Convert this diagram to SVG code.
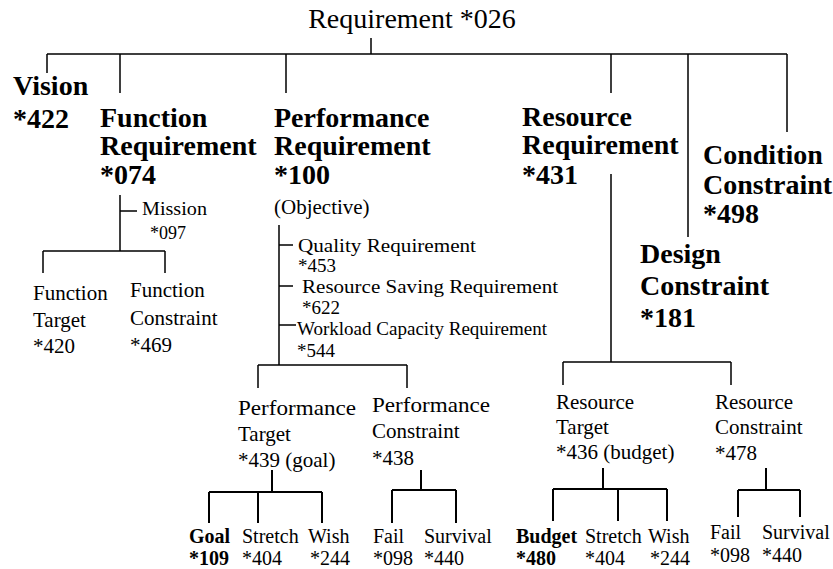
<svg xmlns="http://www.w3.org/2000/svg" width="833" height="569" viewBox="0 0 833 569" font-family="'Liberation Serif','Times New Roman',serif">
<style>
text{font-family:"Liberation Serif","Times New Roman",serif;fill:#000}
.t{font-size:28px}
.h{font-size:28px;font-weight:bold}
.m{font-size:21px}
.s{font-size:19px}
.l{font-size:20px}
.b{font-weight:bold}
.c path{fill:none;stroke:#000;stroke-width:1.5}
.c .k{stroke-width:2}
</style>
<rect width="833" height="569" fill="#fff"/>
<g class="c" id="connectors">
<path d="M371 38V54M47 54H787M47 54V73M120 54V93M286 54V93M611 54V93M688 54V237M787 54V132"/>
<path d="M120 195V251M120 211H137M43 251H165M43 251V273M165 251V273"/>
<path d="M279 225V365M279 245H293M279 286H293M279 325H296M258 365H407M258 365V388M407 365V388"/>
<path d="M611 174V362M563 362H731M563 362V385M731 362V385"/>
<path class="k" d="M272 470V492M209 492H322M209 492V523M258 492V523M322 492V523"/>
<path class="k" d="M421 470V490M392 490H456M392 490V523M456 490V523"/>
<path class="k" d="M603 468V489M553 489H667M553 489V521M618 489V521M667 489V521"/>
<path class="k" d="M766 468V490M738 490H800M738 490V517M800 490V517"/>
</g>
<g id="requirement"><text class="t" x="412" y="28" text-anchor="middle">Requirement *026</text></g>
<g id="vision"><text class="h" x="13" y="95">Vision</text><text class="h" x="13" y="128">*422</text></g>
<g id="function-requirement"><text class="h" x="100" y="127">Function</text><text class="h" x="100" y="155">Requirement</text><text class="h" x="100" y="184">*074</text></g>
<g id="performance-requirement"><text class="h" x="274" y="127">Performance</text><text class="h" x="274" y="155">Requirement</text><text class="h" x="274" y="184">*100</text><text class="m" x="274" y="214">(Objective)</text></g>
<g id="resource-requirement"><text class="h" x="522" y="126">Resource</text><text class="h" x="522" y="154">Requirement</text><text class="h" x="522" y="184">*431</text></g>
<g id="condition-constraint"><text class="h" x="703" y="164">Condition</text><text class="h" x="703" y="194">Constraint</text><text class="h" x="703" y="223">*498</text></g>
<g id="design-constraint"><text class="h" x="640" y="263">Design</text><text class="h" x="640" y="295">Constraint</text><text class="h" x="640" y="327">*181</text></g>
<g id="mission"><text x="142" y="215" font-size="18" textLength="65" lengthAdjust="spacingAndGlyphs">Mission</text><text x="150" y="239" font-size="18">*097</text></g>
<g id="function-target"><text class="m" x="33" y="300">Function</text><text class="m" x="33" y="327">Target</text><text class="m" x="33" y="353">*420</text></g>
<g id="function-constraint"><text class="m" x="130" y="297">Function</text><text class="m" x="130" y="325">Constraint</text><text class="m" x="130" y="352">*469</text></g>
<g id="quality"><text class="s" x="298" y="252" textLength="178" lengthAdjust="spacingAndGlyphs">Quality Requirement</text><text class="s" x="298" y="272">*453</text></g>
<g id="resource-saving"><text class="s" x="302" y="293" textLength="256" lengthAdjust="spacingAndGlyphs">Resource Saving Requirement</text><text class="s" x="302" y="314">*622</text></g>
<g id="workload"><text class="s" x="297" y="335" textLength="250" lengthAdjust="spacingAndGlyphs">Workload Capacity Requirement</text><text class="s" x="297" y="357">*544</text></g>
<g id="performance-target"><text class="m" x="238" y="415" textLength="118" lengthAdjust="spacingAndGlyphs">Performance</text><text class="m" x="238" y="441">Target</text><text class="m" x="238" y="467">*439 (goal)</text></g>
<g id="performance-constraint"><text class="m" x="372" y="412" textLength="118" lengthAdjust="spacingAndGlyphs">Performance</text><text class="m" x="372" y="438">Constraint</text><text class="m" x="372" y="465">*438</text></g>
<g id="resource-target"><text class="m" x="556" y="409">Resource</text><text class="m" x="556" y="434">Target</text><text class="m" x="556" y="459">*436 (budget)</text></g>
<g id="resource-constraint"><text class="m" x="715" y="409">Resource</text><text class="m" x="715" y="434">Constraint</text><text class="m" x="715" y="460">*478</text></g>
<g id="goal"><text class="l b" x="189" y="543">Goal</text><text class="l b" x="189" y="565">*109</text></g>
<g id="stretch-1"><text class="l" x="242" y="543">Stretch</text><text class="l" x="242" y="565">*404</text></g>
<g id="wish-1"><text class="l" x="308" y="543">Wish</text><text class="l" x="310" y="565">*244</text></g>
<g id="fail-1"><text class="l" x="373" y="543">Fail</text><text class="l" x="373" y="565">*098</text></g>
<g id="survival-1"><text class="l" x="424" y="543">Survival</text><text class="l" x="424" y="565">*440</text></g>
<g id="budget"><text class="l b" x="516" y="543">Budget</text><text class="l b" x="516" y="565">*480</text></g>
<g id="stretch-2"><text class="l" x="585" y="543">Stretch</text><text class="l" x="585" y="565">*404</text></g>
<g id="wish-2"><text class="l" x="648" y="543">Wish</text><text class="l" x="650" y="565">*244</text></g>
<g id="fail-2"><text class="l" x="710" y="539">Fail</text><text class="l" x="710" y="562">*098</text></g>
<g id="survival-2"><text class="l" x="762" y="539">Survival</text><text class="l" x="762" y="562">*440</text></g>
</svg>
